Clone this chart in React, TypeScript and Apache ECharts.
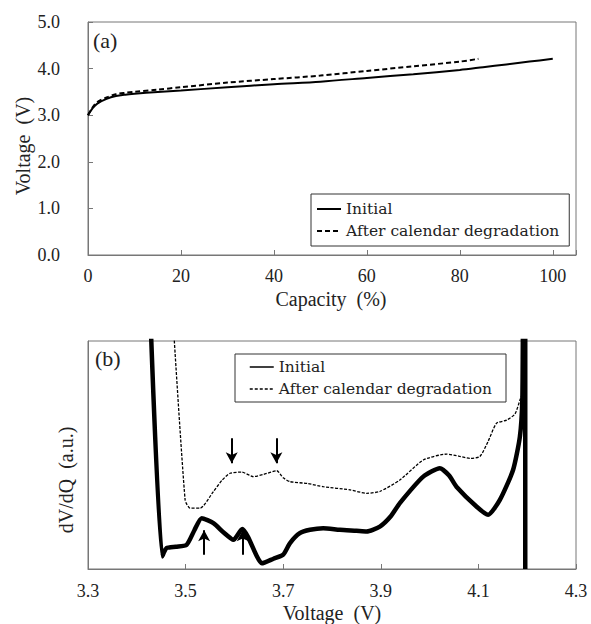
import React, { useEffect, useRef } from "react";
import * as echarts from "echarts";

// (a) charge curves: capacity (%) vs voltage (V)
const capInitial = [0, 1, 2, 4, 6, 8, 10, 15, 20, 30, 40, 50, 60, 70, 80, 85, 90, 95, 100];
const voltInitial = [3.0, 3.15, 3.25, 3.35, 3.41, 3.44, 3.46, 3.5, 3.53, 3.6, 3.665, 3.72, 3.8, 3.88, 3.97, 4.03, 4.09, 4.15, 4.21];
const capAfter = [0, 1, 2, 4, 6, 8, 10, 15, 20, 30, 40, 50, 60, 70, 80, 84];
const voltAfter = [3.0, 3.17, 3.28, 3.38, 3.45, 3.48, 3.5, 3.55, 3.6, 3.7, 3.775, 3.85, 3.95, 4.05, 4.15, 4.21];

// (b) dV/dQ (a.u.) vs voltage (V)
const vInitialB = [3.428, 3.452, 3.461, 3.48, 3.502, 3.518, 3.533, 3.557, 3.578, 3.598, 3.616, 3.628, 3.645, 3.656, 3.68, 3.7, 3.714, 3.734, 3.755, 3.782, 3.816, 3.85, 3.871, 3.898, 3.92, 3.939, 3.987, 4.021, 4.04, 4.055, 4.096, 4.12, 4.144, 4.171, 4.185, 4.19, 4.192, 4.196, 4.196];
const dvdqInitial = [110, 5.5, 9.2, 9.8, 10.6, 17, 22.3, 20.1, 16, 12.8, 17.5, 14, 6, 2.5, 4.5, 6.3, 11.4, 15.7, 17.2, 17.9, 17.2, 16.8, 16.5, 18.6, 23, 28.9, 40.5, 44.2, 41, 36.1, 27.4, 23.8, 30.3, 43.4, 58, 74, 110, 110, 0];
const vAfterB = [3.474, 3.499, 3.509, 3.53, 3.557, 3.575, 3.591, 3.615, 3.639, 3.66, 3.687, 3.7, 3.714, 3.75, 3.782, 3.837, 3.871, 3.898, 3.939, 3.987, 4.035, 4.06, 4.083, 4.103, 4.12, 4.137, 4.158, 4.175, 4.185, 4.19, 4.192];
const dvdqAfter = [110, 30.3, 26.7, 26.7, 34, 39, 42, 42.5, 40.5, 41.5, 43.1, 40, 38.3, 37.5, 36.1, 34.7, 33.2, 34, 39, 47.8, 50.4, 49.5, 48.5, 49.3, 56, 63.9, 65.3, 68, 74, 77, 110];

// arrows in (b): [voltage, from, to]
const downArrows = [[3.5945, 57.4, 46.4], [3.686, 57.4, 46.4]];
const upArrows = [[3.538, 6.3, 17.0], [3.617, 6.3, 17.0]];

const capTicks = [0, 20, 40, 60, 80, 100];
const legendNames = ["Initial", "After calendar degradation"];

const zip = (xs: number[], ys: number[]) => xs.map((x, i) => [x, ys[i]]);

const SERIF = "'Liberation Serif', serif";
const LEG = "'DejaVu Serif', serif";
const AX = "#777";
const TXT = "#222";

export default function App() {
  const ref = useRef<HTMLDivElement>(null);
  useEffect(() => {
    if (!ref.current) return;
    const chart = echarts.init(ref.current, undefined, { renderer: "svg" });
    const arrowLines = [...downArrows, ...upArrows].map((a) => [
      { coord: [a[0], a[1]] },
      { coord: [a[0], a[2]] },
    ]);
    const fmt = (n: string) => n.replace(/ \((a|b)\)$/, "");
    const hiddenSymbol = { color: "rgba(0,0,0,0)", borderWidth: 0, opacity: 0 };
    const legendCommon = {
      orient: "vertical",
      borderColor: "#333",
      borderWidth: 1,
      itemGap: 6,
      itemWidth: 24,
      itemHeight: 14,
      formatter: fmt,
      selectedMode: false,
      itemStyle: hiddenSymbol,
      textStyle: { fontFamily: LEG, fontSize: 15.5, color: TXT },
    };
    chart.setOption({
      animation: false,
      backgroundColor: "#fff",
      grid: [
        { left: 88, top: 22, width: 488, height: 233, show: true, borderColor: AX, borderWidth: 1 },
        { left: 88, top: 341, width: 488, height: 228, show: true, borderColor: AX, borderWidth: 1 },
      ],
      xAxis: [
        {
          gridIndex: 0, type: "value", min: 0, max: 105, interval: 20,
          axisLine: { lineStyle: { color: AX } },
          axisTick: { inside: true, length: 5, lineStyle: { color: AX } },
          splitLine: { show: false },
          axisLabel: {
            margin: 12, fontFamily: SERIF, fontSize: 18, color: TXT,
            formatter: (v: number) => (capTicks.includes(v) ? String(v) : ""),
          },
        },
        {
          gridIndex: 1, type: "value", min: 3.3, max: 4.3, interval: 0.2,
          axisLine: { lineStyle: { color: AX } },
          axisTick: { inside: true, length: 5, lineStyle: { color: AX } },
          splitLine: { show: false },
          axisLabel: {
            margin: 13, fontFamily: SERIF, fontSize: 18, color: TXT,
            formatter: (v: number) => v.toFixed(1),
          },
        },
      ],
      yAxis: [
        {
          gridIndex: 0, type: "value", min: 0, max: 5, interval: 1,
          axisLine: { show: true, lineStyle: { color: AX } },
          axisTick: { show: true, inside: true, length: 5, lineStyle: { color: AX } },
          splitLine: { show: false },
          axisLabel: {
            margin: 28, fontFamily: SERIF, fontSize: 18, color: TXT,
            formatter: (v: number) => v.toFixed(1),
          },
        },
        {
          gridIndex: 1, type: "value", min: 0, max: 100,
          axisLine: { show: true, lineStyle: { color: AX } },
          axisTick: { show: false },
          splitLine: { show: false },
          axisLabel: { show: false },
        },
      ],
      legend: [
        {
          ...legendCommon,
          left: 311, top: 194,
          padding: [7, 10, 7, 5],
          data: [
            { name: "Initial (a)", itemStyle: hiddenSymbol, lineStyle: { width: 2, type: "solid", color: "#000" } },
            { name: "After calendar degradation (a)", itemStyle: hiddenSymbol, lineStyle: { width: 2, type: [5, 3], color: "#000" } },
          ],
        },
        {
          ...legendCommon,
          left: 235, top: 354,
          padding: [5, 14, 5, 14],
          data: [
            { name: "Initial (b)", itemStyle: hiddenSymbol, lineStyle: { width: 1.5, type: "solid", color: "#000" } },
            { name: "After calendar degradation (b)", itemStyle: hiddenSymbol, lineStyle: { width: 1.5, type: [3, 2], color: "#000" } },
          ],
        },
      ],
      series: [
        {
          name: legendNames[0] + " (a)", type: "line", xAxisIndex: 0, yAxisIndex: 0,
          data: zip(capInitial, voltInitial), symbol: "none", smooth: 0.3,
          itemStyle: { color: "#000" },
          lineStyle: { color: "#000", width: 2 }, z: 3,
        },
        {
          name: legendNames[1] + " (a)", type: "line", xAxisIndex: 0, yAxisIndex: 0,
          data: zip(capAfter, voltAfter), symbol: "none", smooth: 0.3,
          itemStyle: { color: "#000" },
          lineStyle: { color: "#000", width: 2, type: [5, 3] }, z: 2,
        },
        {
          name: legendNames[0] + " (b)", type: "line", xAxisIndex: 1, yAxisIndex: 1,
          data: zip(vInitialB, dvdqInitial), symbol: "none", smooth: 0.2,
          itemStyle: { color: "#000" },
          lineStyle: { color: "#000", width: 4.5 },
          markLine: {
            silent: true, symbol: ["none", "arrow"], symbolSize: [9, 11],
            label: { show: false },
            lineStyle: { color: "#000", width: 2, type: "solid" },
            data: arrowLines,
          },
        },
        {
          name: legendNames[1] + " (b)", type: "line", xAxisIndex: 1, yAxisIndex: 1,
          data: zip(vAfterB, dvdqAfter), symbol: "none", smooth: 0.2,
          itemStyle: { color: "#000" },
          lineStyle: { color: "#000", width: 1.3, type: [3, 1.5] },
        },
      ],
      graphic: [
        { type: "text", left: 93, top: 29, style: { text: "(a)", font: `22px ${SERIF}`, fill: TXT } },
        { type: "text", left: 95, top: 347, style: { text: "(b)", font: `22px ${SERIF}`, fill: TXT } },
        { type: "text", x: 331, y: 299, style: { text: "Capacity  (%)", font: `20px ${SERIF}`, fill: TXT, align: "center", verticalAlign: "middle" } },
        { type: "text", x: 332, y: 613, style: { text: "Voltage  (V)", font: `20px ${SERIF}`, fill: TXT, align: "center", verticalAlign: "middle" } },
        { type: "text", x: 23, y: 146, rotation: Math.PI / 2, style: { text: "Voltage  (V)", font: `20px ${SERIF}`, fill: TXT, align: "center", verticalAlign: "middle" } },
        { type: "text", x: 66, y: 480, rotation: Math.PI / 2, style: { text: "dV/dQ  (a.u.)", font: `20px ${SERIF}`, fill: TXT, align: "center", verticalAlign: "middle" } },
      ],
    });
    return () => chart.dispose();
  }, []);
  return <div ref={ref} style={{ position: "fixed", left: 0, top: 0, width: 591, height: 624 }} />;
}
